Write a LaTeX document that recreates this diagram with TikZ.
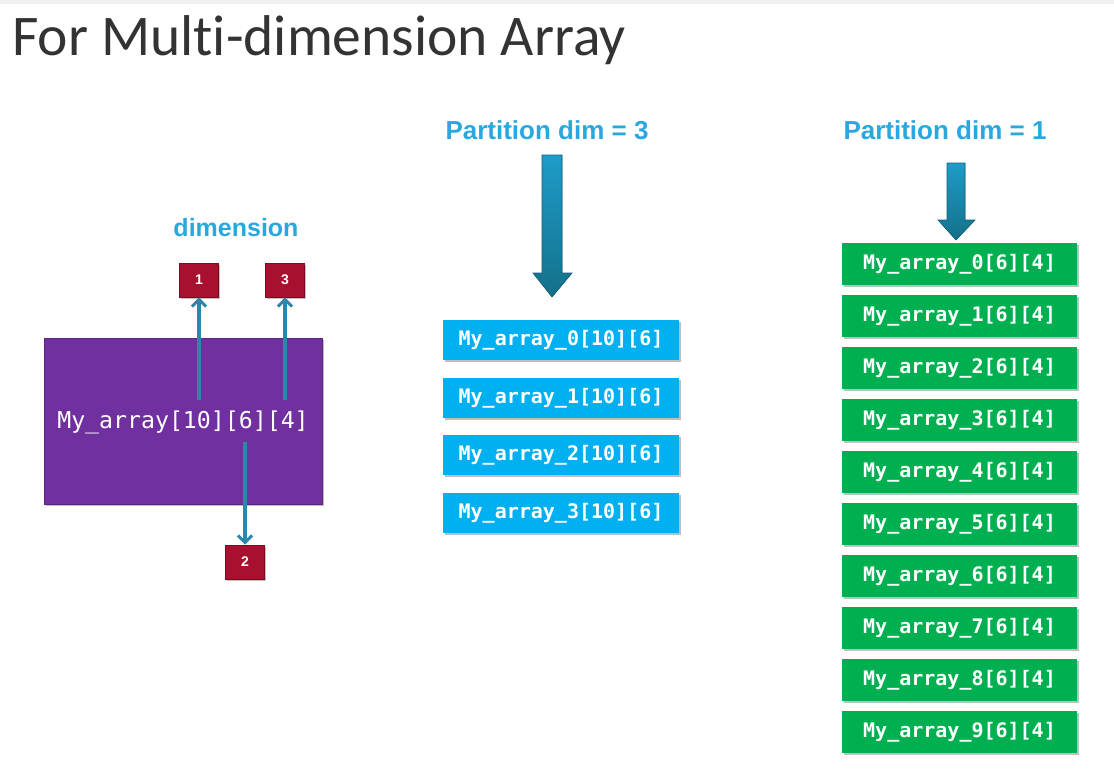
\documentclass[tikz,border=0pt]{standalone}
\usepackage{fontspec}
\setmainfont{Carlito}[Ligatures={NoCommon,NoRare},Contextuals={NoAlternate}]
\newfontfamily\labelfont{Liberation Sans}
\newfontfamily\codefont{DejaVu Sans Mono}
\usetikzlibrary{arrows.meta,shadows}
\definecolor{purplebox}{HTML}{7030A0}
\definecolor{bluebox}{HTML}{00B0F0}
\definecolor{greenbox}{HTML}{00B050}
\definecolor{redbox}{HTML}{A8102F}
\definecolor{redline}{HTML}{7A0C20}
\definecolor{tealarrow}{HTML}{2C88A9}
\definecolor{skylabel}{HTML}{29A8E0}
\definecolor{arrowtop}{HTML}{1E9CC9}
\definecolor{arrowbot}{HTML}{14708A}
\definecolor{titlegray}{HTML}{333333}
\tikzset{
  boxshadow/.style={drop shadow={shadow xshift=1.5pt,shadow yshift=-1.5pt,opacity=0.25,fill=black}},
  purplerect/.style={fill=purplebox,draw=purplebox!80!black,line width=0.6pt,minimum width=278pt,minimum height=166pt,inner sep=0pt,boxshadow},
  partbox/.style={fill=bluebox,minimum width=236pt,minimum height=40pt,inner sep=0pt,text=white,font=\codefont\bfseries\fontsize{20}{24}\selectfont,boxshadow},
  rowbox/.style={fill=greenbox,minimum width=235pt,minimum height=42pt,inner sep=0pt,text=white,font=\codefont\bfseries\fontsize{20}{24}\selectfont,boxshadow},
  dimbox/.style={fill=redbox,draw=redline,line width=0.8pt,minimum width=39pt,minimum height=34pt,inner sep=0pt,text=white,font=\labelfont\bfseries\fontsize{14}{16}\selectfont,boxshadow},
  headlabel/.style={text=skylabel,font=\labelfont\bfseries\fontsize{26}{30}\selectfont,inner sep=0pt},
  dimarrow/.style={draw=tealarrow,line width=3.4pt,-{Straight Barb[length=7pt,width=14pt,line width=3pt]}},
  bigarrow/.style={top color=arrowtop,bottom color=arrowbot,draw=arrowbot!85!black,line width=0.6pt}
}
\begin{document}
\begin{tikzpicture}[x=1pt,y=-1pt]
\useasboundingbox (0,0) rectangle (1114,772);
\fill[white] (0,0) rectangle (1114,772);
\fill[gray!12] (0,0) rectangle (1114,4);

% title
\node[anchor=base west,inner sep=0pt,text=titlegray,font=\fontsize{57.5}{62}\selectfont] (title) at (12,55) {For Multi-dimension Array};

% left part
\node[headlabel,font=\labelfont\bfseries\fontsize{25}{30}\selectfont] (dimlabel) at (236,228) {dimension};
\node[purplerect] (arr) at (183,421) {};
\node[text=white,inner sep=0pt,font=\codefont\fontsize{23.2}{28}\selectfont] (arrtext) at (183,422) {My\_array[10][6][4]};
\node[dimbox] (d1) at (199,280) {1};
\node[dimbox] (d3) at (285,280) {3};
\node[dimbox] (d2) at (245,562) {2};
\coordinate (s1) at (199,400);
\coordinate (s3) at (285,400);
\coordinate (s2) at (245,442);
\draw[dimarrow] (s1) -- (d1.south);
\draw[dimarrow] (s3) -- (d3.south);
\draw[dimarrow] (s2) -- (d2.north);

% middle part
\node[headlabel] (p3) at (547,130) {Partition dim = 3};
\filldraw[bigarrow] (542,155) -- (562,155) -- (562,273) -- (572,273) -- (552,297) -- (533,273) -- (542,273) -- cycle;
\foreach \i/\y in {0/340,1/398,2/455,3/513}{
  \node[partbox] (b\i) at (561,\y) {My\_array\_\i[10][6]};
}

% right part
\node[headlabel] (p1) at (945,130) {Partition dim = 1};
\filldraw[bigarrow] (947,163) -- (965,163) -- (965,220) -- (975,220) -- (956,240) -- (938,220) -- (947,220) -- cycle;
\foreach \i in {0,...,9}{
  \node[rowbox] (g\i) at (959.5,264+52*\i) {My\_array\_\i[6][4]};
}
\end{tikzpicture}
\end{document}
